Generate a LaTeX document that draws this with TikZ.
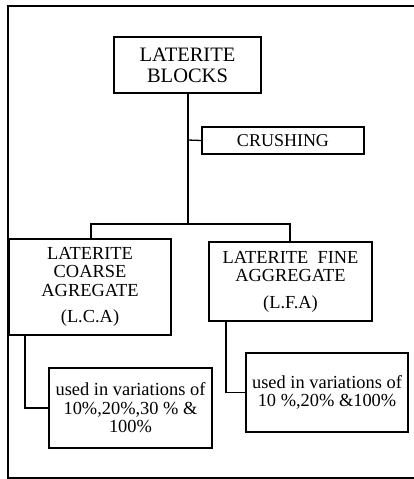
\documentclass[tikz,border=0pt]{standalone}
\usepackage{fontspec}
\setmainfont{Liberation Serif}

\begin{document}
\begin{tikzpicture}[x=1pt,y=-1pt,
	blockbox/.style={draw=black, line width=1.2pt, align=center, inner sep=0pt, font=\fontsize{18.4}{18.4}\selectfont},
	link/.style={draw=black, line width=1.3pt}]
	% Parameters
	\def\boxw{163}
	\def\xtrunk{188}
	\def\ysplit{224}
	\def\xleft{91}
	\def\xright{290}
	\def\xlcadrop{25}
	\def\xlfadrop{226}
	
	\useasboundingbox (0,0) rectangle (414,479);
	\clip (0,0) rectangle (414,479);
	
	%frame
	\draw[line width=1.3pt] (8,6) rectangle (430,478);
	
	%blocks
	\node[blockbox, minimum width=147, minimum height=56, font=\fontsize{20.5}{21}\selectfont] (blocks) at (187.5,65) {LATERITE\\BLOCKS};
	\node[blockbox, minimum width=162, minimum height=27, font=\fontsize{18}{18}\selectfont] (crushing) at (283,140.5) {CRUSHING};
	\node[blockbox, minimum width=162, minimum height=96] (lca) at (90,287) {LATERITE\\COARSE\\AGREGATE\\[8.4pt](L.C.A)};
	\node[blockbox, minimum width=\boxw, minimum height=79] (lfa) at (290.5,281.5) {LATERITE\ \ FINE\\AGGREGATE\\[8.4pt](L.F.A)};
	\node[blockbox, minimum width=\boxw, minimum height=80] (lcause) at (130.5,408) {used in variations of\\10\%,20\%,30 \% \&\\100\%};
	\node[blockbox, minimum width=162, minimum height=79] (lfause) at (327,392.5) {used in variations of\\10 \%,20\% \&100\%};
	
	%nets
	\coordinate (split) at (\xtrunk,\ysplit);
	\draw[link, line width=1.6pt] (blocks.south -| split) -- (split);
	\draw[link] (\xtrunk,140) -- (crushing.west);
	\draw[link] (lca.north -| \xleft,0) |- (split) -| (lfa.north -| \xright,0);
	\draw[link] (lca.south -| \xlcadrop,0) |- (lcause.west);
	\draw[link] (lfa.south -| \xlfadrop,0) |- (lfause.west);
\end{tikzpicture}
\end{document}
